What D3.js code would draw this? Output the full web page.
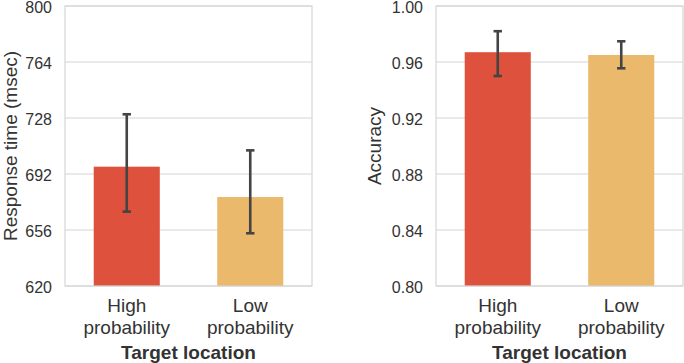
<!DOCTYPE html>
<html>
<head>
<meta charset="utf-8">
<script src="https://cdn.jsdelivr.net/npm/d3@7"></script>
<style>
  body { margin: 0; background: #fff; }
  text { font-family: "Liberation Sans", Arial, sans-serif; fill: #333; }
</style>
</head>
<body>
<div id="chart"></div>
<script>
// data
const categories = ["High probability", "Low probability"];
const rtMean = [696.7, 677.2];
const rtLow = [667.8, 653.9];
const rtHigh = [730.4, 707.2];
const accMean = [0.967, 0.965];
const accLow = [0.950, 0.9555];
const accHigh = [0.982, 0.9748];
const rtTicks = [620, 656, 692, 728, 764, 800];
const accTicks = [0.80, 0.84, 0.88, 0.92, 0.96, 1.00];
const barColors = ["#de513c", "#ebb96b"];

const W = 684, H = 363;
const svg = d3.select("#chart").append("svg")
    .attr("width", W)
    .attr("height", H);

// one panel
function panel(opts) {
  const g = svg.append("g").attr("transform", `translate(${opts.left},6)`);
  const w = opts.width, h = 280;

  const x = d3.scaleBand().domain(categories).range([0, w]);
  const y = d3.scaleLinear().domain(opts.domain).range([h, 0]);

  // gridlines
  g.append("g")
    .selectAll("line")
    .data(opts.ticks)
    .join("line")
      .attr("x1", 0).attr("x2", w)
      .attr("y1", d => y(d)).attr("y2", d => y(d))
      .attr("stroke", "#d6d6d6")
      .attr("stroke-width", 1.2);

  // y axis labels
  const ya = g.append("g")
    .call(d3.axisLeft(y).tickValues(opts.ticks).tickFormat(opts.fmt).tickSize(0).tickPadding(13));
  ya.attr("font-size", 16).attr("font-family", null);
  ya.select(".domain").remove();
  ya.selectAll("text")
      .attr("dy", "0.39em")
      .style("font-size", "16px")
      .style("fill", "#333");

  // bars
  const bw = x.step() * 0.535;
  g.append("g")
    .selectAll("rect")
    .data(categories)
    .join("rect")
      .attr("x", d => x(d) + x.bandwidth() / 2 - bw / 2)
      .attr("y", (d, i) => y(opts.mean[i]))
      .attr("width", bw)
      .attr("height", (d, i) => h - y(opts.mean[i]))
      .attr("fill", (d, i) => barColors[i]);

  // error bars
  const eb = g.append("g").attr("stroke", "#444").attr("stroke-width", 2.6);
  categories.forEach((c, i) => {
    const cx = x(c) + x.bandwidth() / 2;
    eb.append("line").attr("x1", cx).attr("x2", cx)
      .attr("y1", y(opts.lo[i])).attr("y2", y(opts.hi[i]));
    [opts.lo[i], opts.hi[i]].forEach(v => {
      eb.append("line").attr("x1", cx - 4.2).attr("x2", cx + 4.2)
        .attr("y1", y(v)).attr("y2", y(v));
    });
  });

  // frame
  g.append("rect")
    .attr("x", 0).attr("y", 0)
    .attr("width", w).attr("height", h)
    .attr("fill", "none")
    .attr("stroke", "#d6d6d6")
    .attr("stroke-width", 1.2);

  // x tick labels, two lines
  categories.forEach(c => {
    const cx = x(c) + x.bandwidth() / 2;
    const words = c.split(" ");
    const t = g.append("text")
      .attr("text-anchor", "middle")
      .style("font-size", "19px");
    t.append("tspan").attr("x", cx).attr("y", 306).text(words[0]);
    t.append("tspan").attr("x", cx).attr("y", 327.5).text(words[1]);
  });

  // x axis title
  g.append("text")
    .attr("x", w / 2)
    .attr("y", 353)
    .attr("text-anchor", "middle")
    .style("font-size", "19px")
    .attr("font-weight", "bold")
    .text("Target location");

  // y axis title
  g.append("text")
    .attr("transform", `translate(${opts.ylabelX},${h / 2}) rotate(-90)`)
    .attr("text-anchor", "middle")
    .style("font-size", "19px")
    .text(opts.ylabel);
}

panel({
  left: 65, width: 247,
  domain: [620, 800], ticks: rtTicks, fmt: d3.format("d"),
  mean: rtMean, lo: rtLow, hi: rtHigh,
  ylabel: "Response time (msec)", ylabelX: -48.5
});

panel({
  left: 436, width: 247,
  domain: [0.80, 1.00], ticks: accTicks, fmt: d3.format(".2f"),
  mean: accMean, lo: accLow, hi: accHigh,
  ylabel: "Accuracy", ylabelX: -55
});
</script>
</body>
</html>
